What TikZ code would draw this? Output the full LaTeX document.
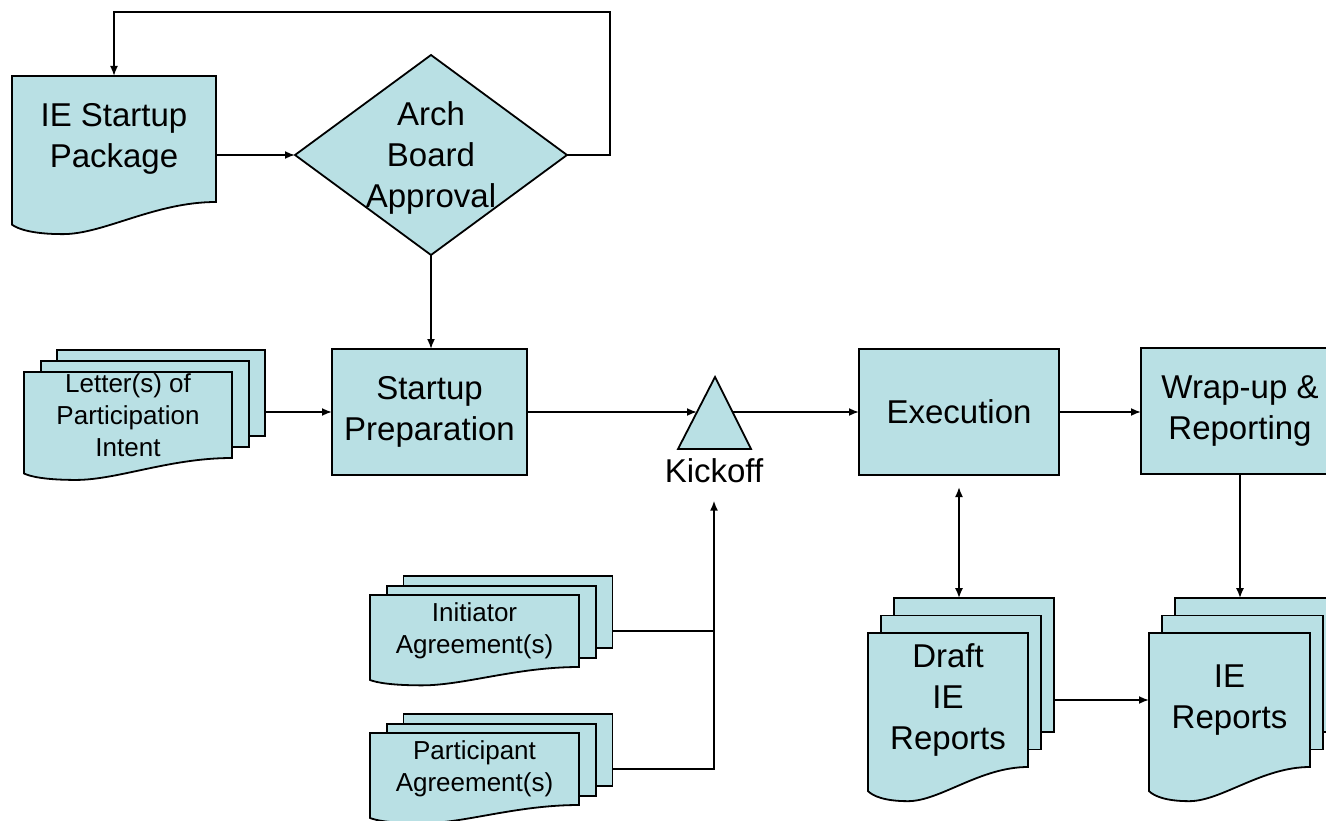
\documentclass[tikz,border=0pt]{standalone}
\usepackage{fontspec}
\setmainfont{Liberation Sans}
\usetikzlibrary{shapes.geometric,arrows.meta}
\definecolor{docblue}{RGB}{185,224,228}
\tikzset{
	shapeline/.style={draw=black, fill=docblue, line width=1.8pt},
	bigtext/.style={font=\fontsize{33}{41}\selectfont},
	smalltext/.style={font=\fontsize{26}{32}\selectfont},
	doctext/.style={align=center, inner sep=0pt, outer sep=0pt},
	process/.style={shapeline, bigtext, align=center, inner sep=0pt, outer sep=0pt},
	decision/.style={shapeline, diamond, inner sep=0pt, outer sep=0pt},
	flow/.style={line width=1.8pt, -{Latex[length=10pt,width=8pt]}},
	twoway/.style={line width=1.8pt, {Latex[length=10pt,width=8pt]}-{Latex[length=10pt,width=8pt]}},
	link/.style={line width=1.8pt}
}
% one page with a wavy bottom: x0, y0, w, h
\newcommand{\docpage}[4]{
	\filldraw[shapeline] (#1,#2) -- ({#1+#3},#2) -- ({#1+#3},{#2+#4})
		.. controls ({#1+0.7*#3},{#2+#4}) and ({#1+0.45*#3},{#2+1.255*#4}) .. ({#1+0.25*#3},{#2+1.255*#4})
		.. controls ({#1+0.1*#3},{#2+1.255*#4}) and ({#1+0.03*#3},{#2+1.215*#4}) .. (#1,{#2+1.18*#4}) -- cycle;
}
% name, x0, y0, w, h, font style, text
\newcommand{\docnode}[7]{
	\docpage{#2}{#3}{#4}{#5}
	\node[doctext, #6, minimum width=#4, minimum height=#5] (#1) at ({#2+#4/2},{#3+#5/2}) {#7};
}
% same, with two pages behind
\newcommand{\docstack}[7]{
	\filldraw[shapeline] ({#2+0.16*#4},{#3-0.26*#5}) rectangle ++(#4,#5);
	\node[doctext, minimum width=#4, minimum height=#5] (#1-back) at ({#2+0.66*#4},{#3-0.26*#5+#5/2}) {};
	\filldraw[shapeline] ({#2+0.08*#4},{#3-0.13*#5}) rectangle ++(#4,#5);
	\docnode{#1}{#2}{#3}{#4}{#5}{#6}{#7}
}
\begin{document}
\begin{tikzpicture}[x=1pt, y=-1pt]
	\useasboundingbox (0,0) rectangle (1326,821);
	\clip (0,0) rectangle (1326,821);
	% top row
	\docnode{pkg}{12}{76}{204}{126}{bigtext}{IE Startup\\Package}
	\node[decision, minimum width=272pt, minimum height=200pt] (arch) at (431,155) {};
	\node[bigtext, align=center, yshift=-3pt] (archtext) at (arch) {Arch\\Board\\Approval};
	\coordinate (loop) at (610,12);
	% middle row
	\docstack{letters}{24}{372}{208}{86}{smalltext}{Letter(s) of\\Participation\\Intent}
	\node[process, minimum width=195pt, minimum height=126pt] (prep) at (429.5,412) {Startup\\Preparation};
	\filldraw[shapeline] (678,449) -- (715,377) -- (751,449) -- cycle;
	\coordinate (kickin) at (697,412);
	\coordinate (kickout) at (733,412);
	\node[bigtext, inner sep=0pt, anchor=north] (kicklabel) at (714,458) {Kickoff};
	\node[process, minimum width=200pt, minimum height=126pt] (exec) at (959,412) {Execution};
	\node[process, minimum width=198pt, minimum height=126pt] (wrap) at (1240,411) {Wrap-up \&\\Reporting};
	% bottom row
	\docstack{init}{370}{595}{209}{72}{smalltext}{Initiator\\Agreement(s)}
	\docstack{part}{370}{733}{209}{72}{smalltext}{Participant\\Agreement(s)}
	\docstack{draft}{868}{633}{160}{134}{bigtext}{Draft\\IE\\Reports}
	\docstack{reports}{1149}{633}{161}{134}{bigtext}{IE\\Reports}
	% connectors
	\draw[flow] (pkg.east |- arch.west) -- (arch.west);
	\draw[flow] (arch.east) -| (loop) -| (pkg.north);
	\draw[flow] (arch.south) -- (arch.south |- prep.north);
	\draw[flow] (letters-back.east |- prep.west) -- (prep.west);
	\draw[flow] (prep.east) -- (prep.east -| kickin);
	\draw[flow] (kickout) -- (kickout -| exec.west);
	\draw[link] (init-back.east |- init.east) -- (init.east -| kicklabel);
	\draw[flow, shorten >=18pt] (part-back.east |- part.east) -| (kicklabel.south);
	\draw[flow] (exec.east) -- (exec.east -| wrap.west);
	\draw[twoway, shorten <=12pt] (exec.south) -- (exec.south |- draft-back.north);
	\draw[flow] (wrap.south) -- (wrap.south |- reports-back.north);
	\draw[flow] (draft-back.east |- reports.west) -- (reports.west);
\end{tikzpicture}
\end{document}
